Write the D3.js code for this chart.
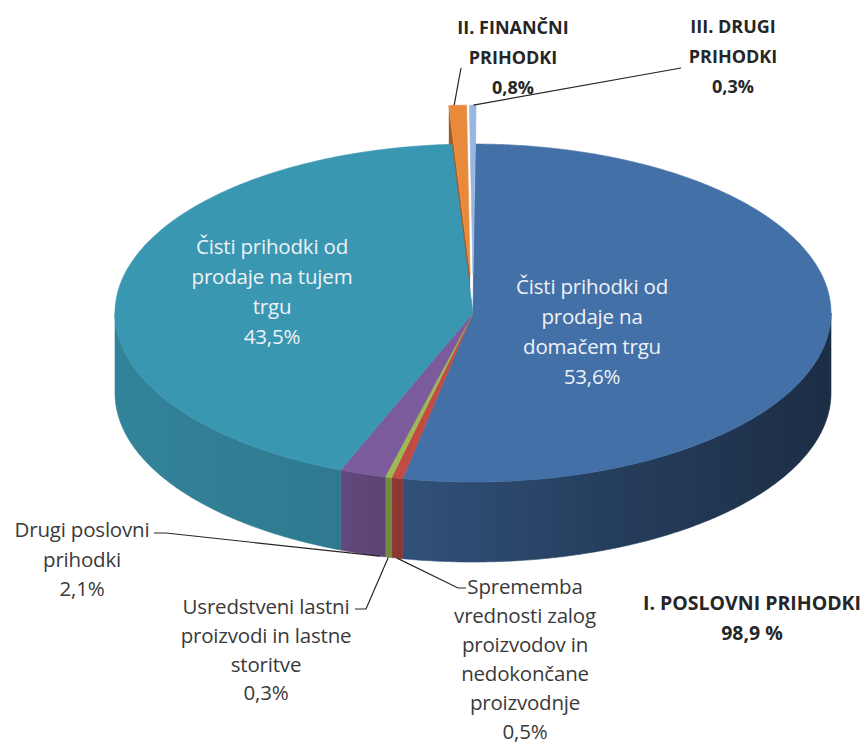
<!DOCTYPE html>
<html>
<head>
<meta charset="utf-8">
<script src="https://cdn.jsdelivr.net/npm/d3@7"></script>
<style>
  body { margin: 0; background: #fff; }
  text { font-family: "Open Sans", Lato, sans-serif; }
</style>
</head>
<body>
<div id="chart"></div>
<script>
// --- Data ---
const categories = [
    "Čisti prihodki od prodaje na domačem trgu",
    "Sprememba vrednosti zalog proizvodov in nedokončane proizvodnje",
    "Usredstveni lastni proizvodi in lastne storitve",
    "Drugi poslovni prihodki",
    "Čisti prihodki od prodaje na tujem trgu",
    "II. FINANČNI PRIHODKI",
    "III. DRUGI PRIHODKI"
];
const values = [53.6, 0.5, 0.3, 2.1, 43.5, 0.8, 0.3];
const labelLines = [
    ["Čisti prihodki od", "prodaje na", "domačem trgu"],
    ["Sprememba", "vrednosti zalog", "proizvodov in", "nedokončane", "proizvodnje"],
    ["Usredstveni lastni", "proizvodi in lastne", "storitve"],
    ["Drugi poslovni", "prihodki"],
    ["Čisti prihodki od", "prodaje na tujem", "trgu"],
    ["II. FINANČNI", "PRIHODKI"],
    ["III. DRUGI", "PRIHODKI"]
];
const explodedSlices = ["II. FINANČNI PRIHODKI", "III. DRUGI PRIHODKI"];
const groupLabel = "I. POSLOVNI PRIHODKI";
const groupValue = "98,9 %";

const colors = ["#4470a8", "#c24b43", "#9cb954", "#7c5b9c", "#3a97b2", "#e9893b", "#98b6e0"];

// --- Layout ---
const width = 865, height = 747;
const cx = 473, cy = 313, rx = 358, ry = 169, depth = 80, explode = 0.23;

// label placement: centre x, first line y, line height, style, leader
const labelLayout = [
    { x: 592, y: 287, lh: 30, inside: true },
    { x: 525, y: 587, lh: 29, leader: [[466, 588], [458, 588]], anchor: 0.5 },
    { x: 266, y: 607, lh: 28.6, leader: [[355, 609], [366, 609]], anchor: 0.5 },
    { x: 82, y: 530, lh: 29.5, leader: [[154, 533], [166, 533]], anchor: 0.12 },
    { x: 272, y: 247, lh: 30, inside: true },
    { x: 513, y: 28, lh: 30, bold: true, leader: [[461, 68]], anchor: 0.3, top: true },
    { x: 733, y: 27, lh: 30, bold: true, leader: [[681, 68]], anchor: 0.6, top: true }
];

const fmt = v => d3.format(".1f")(v).replace(".", ",") + "%";

const svg = d3.select("#chart").append("svg")
    .attr("width", width)
    .attr("height", height);

const pie = d3.pie().sort(null).value(d => d)
    .startAngle(0.5 * Math.PI / 180)
    .endAngle(2 * Math.PI + 0.5 * Math.PI / 180);
const arcs = pie(values).map((d, i) => {
    const mid = (d.startAngle + d.endAngle) / 2;
    const isExploded = explodedSlices.includes(categories[i]);
    const off = isExploded ? [rx * explode * Math.sin(mid), -ry * explode * Math.cos(mid)] : [0, 0];
    return { ...d, i, mid, off, isExploded };
});

function pt(a, r, z, off) {
    return [cx + off[0] + rx * r * Math.sin(a), cy + off[1] - ry * r * Math.cos(a) + z];
}
function arcPoints(a0, a1, z, off) {
    const n = Math.max(2, Math.ceil(Math.abs(a1 - a0) / 0.01));
    return d3.range(n + 1).map(k => pt(a0 + (a1 - a0) * k / n, 1, z, off));
}
const line = d3.line();

// side gradients (darker towards the right)
const defs = svg.append("defs");
arcs.forEach(d => {
    const c = d3.color(colors[d.i]);
    const g = defs.append("linearGradient")
        .attr("id", "side" + d.i)
        .attr("gradientUnits", "userSpaceOnUse")
        .attr("x1", cx - rx).attr("x2", cx + rx)
        .attr("y1", 0).attr("y2", 0);
    [[0, 0.4], [0.3, 0.6], [0.42, 0.95], [0.7, 1.7], [1, 2.5]].forEach(([o, k]) => {
        g.append("stop").attr("offset", o).attr("stop-color", c.darker(k));
    });
});

// outer walls of the front half
const front = svg.append("g");
arcs.filter(d => !d.isExploded).forEach(d => {
    const a0 = Math.max(d.startAngle, Math.PI / 2);
    const a1 = Math.min(d.endAngle, 3 * Math.PI / 2);
    if (a1 <= a0) return;
    const topPts = arcPoints(a0, a1, 0, d.off);
    const botPts = arcPoints(a1, a0, depth, d.off);
    front.append("path")
        .attr("d", line(topPts.concat(botPts)) + "Z")
        .attr("fill", `url(#side${d.i})`)
        .attr("stroke", `url(#side${d.i})`)
        .attr("stroke-width", 0.6);
});

// radial walls of exploded pieces (seen through the gap)
arcs.filter(d => d.isExploded).forEach(d => {
    const a = d.i === 5 ? d.startAngle : d.endAngle;
    const c = d3.color(colors[d.i]).darker(d.i === 5 ? 1.1 : 0.4);
    const p = [pt(a, 0, 0, d.off), pt(a, 1, 0, d.off), pt(a, 1, depth, d.off), pt(a, 0, depth, d.off)];
    svg.append("path").attr("d", line(p) + "Z").attr("fill", c);
});

// top faces
const tops = svg.append("g");
arcs.forEach(d => {
    const pts = [pt(0, 0, 0, d.off)].concat(arcPoints(d.startAngle, d.endAngle, 0, d.off));
    tops.append("path")
        .attr("d", line(pts) + "Z")
        .attr("fill", colors[d.i])
        .attr("stroke", colors[d.i])
        .attr("stroke-width", 0.6);
});

// labels
const labels = svg.append("g");
arcs.forEach(d => {
    const L = labelLayout[d.i];
    const lines = labelLines[d.i].concat([fmt(values[d.i])]);
    const t = labels.append("text")
        .attr("text-anchor", "middle")
        .attr("font-size", L.bold ? 18 : 20.5)
        .attr("font-weight", L.bold ? 700 : 400)
        .attr("letter-spacing", L.bold ? 0 : -0.2)
        .attr("fill", L.inside ? "#eef2f6" : (L.bold ? "#262626" : "#3a3a3a"));
    lines.forEach((s, k) => {
        t.append("tspan")
            .attr("x", L.x)
            .attr("y", L.y + k * L.lh)
            .attr("dy", "0.36em")
            .text(s);
    });
    if (L.leader) {
        const a = d.startAngle + (d.endAngle - d.startAngle) * L.anchor;
        const end = L.top ? pt(a, 1, 0, d.off) : pt(a, 1, depth, d.off);
        labels.append("path")
            .attr("d", line(L.leader.concat([end])))
            .attr("fill", "none")
            .attr("stroke", "#262626")
            .attr("stroke-width", 1.2);
    }
});

// group label
const gl = labels.append("text")
    .attr("text-anchor", "middle")
    .attr("font-size", 19.5)
    .attr("font-weight", 700)
    .attr("fill", "#262626");
[groupLabel, groupValue].forEach((s, k) => {
    gl.append("tspan").attr("x", 752).attr("y", 603 + k * 30).attr("dy", "0.36em").text(s);
});
</script>
</body>
</html>
